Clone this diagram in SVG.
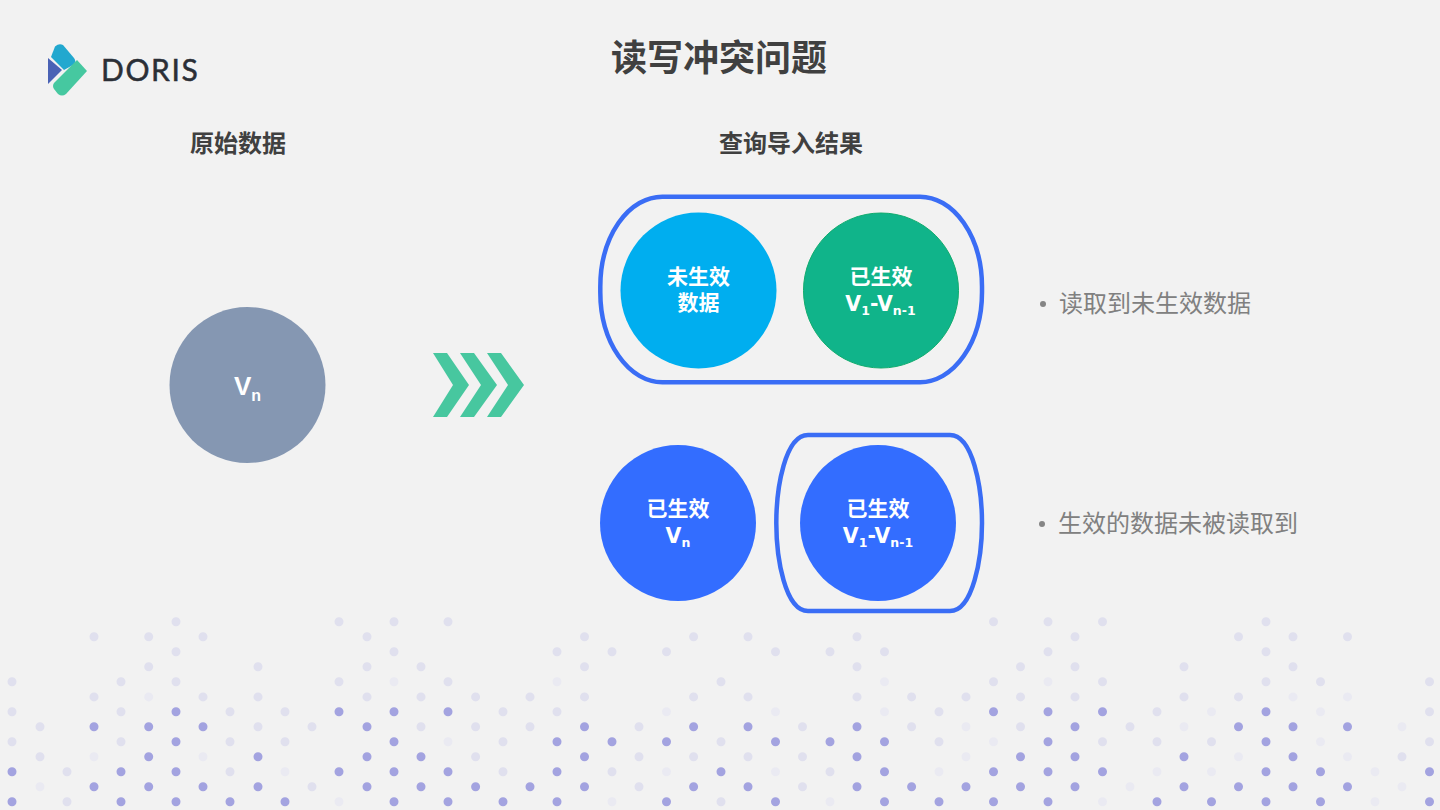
<svg xmlns="http://www.w3.org/2000/svg" width="1440" height="810" viewBox="0 0 1440 810">
<style>
text{font-family:"Liberation Sans","Noto Sans CJK SC",sans-serif}
.cjk{font-family:"Noto Sans CJK SC",sans-serif;font-weight:700}
.title{font-size:36px;fill:#404040;text-anchor:middle}
.sub{font-size:24px;fill:#404040;text-anchor:middle}
.lab{font-size:21px;fill:#fff;text-anchor:middle}
.ver{font-family:"DejaVu Sans",sans-serif;font-weight:700;font-size:20.5px}
.s{font-size:12.5px}
.vn{font-family:"Liberation Sans",sans-serif;font-weight:700;font-size:26px;fill:#fff;text-anchor:middle}
.vn .s{font-size:16px}
.item{font-family:"Noto Sans CJK SC",sans-serif;font-size:24px;font-weight:400;fill:#808080}
.bullet{fill:#858585}
.ring{fill:none;stroke:#3a6df5;stroke-width:4.5}
.d{fill:none;stroke-linecap:round;stroke-width:9}
.chev{fill:#47c79f}
</style>
<rect width="1440" height="810" fill="#f2f2f2"/>
<g id="dots">
<path class="d" stroke="#e0e0ee" d="M176 621.7h.01M339 621.7h.01M394 621.7h.01M448 621.7h.01M993.5 621.7h.01M1048 621.7h.01M1102.5 621.7h.01M1266 621.7h.01
M94 636.7h.01M148.7 636.7h.01M203 636.7h.01M367 636.7h.01M584.5 636.7h.01M693.6 636.7h.01M748 636.7h.01M857 636.7h.01M1075 636.7h.01M1238.5 636.7h.01M1293 636.7h.01M1347.5 636.7h.01
M176 651.7h.01M394 651.7h.01M557 651.7h.01M612 651.7h.01M666.5 651.7h.01M775.5 651.7h.01M830 651.7h.01M884.5 651.7h.01M1048 651.7h.01M1266 651.7h.01
M148.7 666.7h.01M258 666.7h.01M367 666.7h.01M421 666.7h.01M584.5 666.7h.01M857 666.7h.01M1020.5 666.7h.01M1075 666.7h.01M1184 666.7h.01M1293 666.7h.01
M12 681.7h.01M121 681.7h.01M176 681.7h.01M339 681.7h.01M448 681.7h.01M721 681.7h.01M993.5 681.7h.01M1102.5 681.7h.01M1266 681.7h.01M1320.5 681.7h.01M1429.5 681.7h.01
M94 696.9h.01M203 696.9h.01M258 696.9h.01M367 696.9h.01M421 696.9h.01M475.6 696.9h.01M530 696.9h.01M584.5 696.9h.01M693.6 696.9h.01M748 696.9h.01M857 696.9h.01M911.6 696.9h.01M966 696.9h.01M1020.5 696.9h.01M1075 696.9h.01M1184 696.9h.01M1238.5 696.9h.01
M12 711.7h.01M121 711.7h.01M230 711.7h.01M285 711.7h.01M503 711.7h.01M557 711.7h.01M939 711.7h.01M1157 711.7h.01M1429.5 711.7h.01
M40 726.7h.01M258 726.7h.01M312 726.7h.01M421 726.7h.01M475.6 726.7h.01M530 726.7h.01M639 726.7h.01M802.5 726.7h.01M911.6 726.7h.01M1020.5 726.7h.01M1130 726.7h.01
M12 741.7h.01M121 741.7h.01M230 741.7h.01M285 741.7h.01M503 741.7h.01M721 741.7h.01M939 741.7h.01M1102.5 741.7h.01M1157 741.7h.01M1211.5 741.7h.01M1429.5 741.7h.01
M40 756.7h.01M475.6 756.7h.01M639 756.7h.01M693.6 756.7h.01M748 756.7h.01M802.5 756.7h.01M1402 756.7h.01
M67 771.7h.01M230 771.7h.01M503 771.7h.01M612 771.7h.01M830 771.7h.01
M312 786.7h.01M639 786.7h.01M802.5 786.7h.01
M67 801.7h.01M721 801.7h.01"/>
<path class="d" stroke="#eaeaf2" d="M394 681.7h.01M557 681.7h.01M884.5 681.7h.01M1048 681.7h.01
M148.7 696.9h.01M1293 696.9h.01M1347.5 696.9h.01
M666.5 711.7h.01M775.5 711.7h.01M884.5 711.7h.01M1211.5 711.7h.01M1320.5 711.7h.01
M966 726.7h.01M1184 726.7h.01M1402 726.7h.01
M448 741.7h.01M993.5 741.7h.01M1320.5 741.7h.01
M94 756.7h.01M203 756.7h.01M966 756.7h.01M1238.5 756.7h.01M1347.5 756.7h.01
M285 771.7h.01M666.5 771.7h.01M775.5 771.7h.01M939 771.7h.01M1157 771.7h.01M1211.5 771.7h.01M1375 771.7h.01
M40 786.7h.01M1130 786.7h.01M1402 786.7h.01
M339 801.7h.01M612 801.7h.01M830 801.7h.01M1102.5 801.7h.01M1375 801.7h.01"/>
<path class="d" stroke="#a3a3e0" d="M176 711.7h.01M339 711.7h.01M394 711.7h.01M448 711.7h.01M993.5 711.7h.01M1048 711.7h.01M1102.5 711.7h.01M1266 711.7h.01
M94 726.7h.01M148.7 726.7h.01M203 726.7h.01M367 726.7h.01M584.5 726.7h.01M693.6 726.7h.01M748 726.7h.01M857 726.7h.01M1075 726.7h.01M1238.5 726.7h.01M1293 726.7h.01M1347.5 726.7h.01
M176 741.7h.01M394 741.7h.01M557 741.7h.01M612 741.7h.01M666.5 741.7h.01M775.5 741.7h.01M830 741.7h.01M884.5 741.7h.01M1048 741.7h.01M1266 741.7h.01
M148.7 756.7h.01M258 756.7h.01M367 756.7h.01M421 756.7h.01M584.5 756.7h.01M857 756.7h.01M1020.5 756.7h.01M1075 756.7h.01M1184 756.7h.01M1293 756.7h.01
M12 771.7h.01M121 771.7h.01M176 771.7h.01M339 771.7h.01M394 771.7h.01M448 771.7h.01M557 771.7h.01M721 771.7h.01M884.5 771.7h.01M993.5 771.7h.01M1048 771.7h.01M1102.5 771.7h.01M1266 771.7h.01M1320.5 771.7h.01M1429.5 771.7h.01
M94 786.7h.01M148.7 786.7h.01M203 786.7h.01M258 786.7h.01M367 786.7h.01M421 786.7h.01M475.6 786.7h.01M530 786.7h.01M584.5 786.7h.01M693.6 786.7h.01M748 786.7h.01M857 786.7h.01M911.6 786.7h.01M966 786.7h.01M1020.5 786.7h.01M1075 786.7h.01M1184 786.7h.01M1238.5 786.7h.01M1293 786.7h.01M1347.5 786.7h.01
M12 801.7h.01M121 801.7h.01M176 801.7h.01M230 801.7h.01M285 801.7h.01M394 801.7h.01M448 801.7h.01M503 801.7h.01M557 801.7h.01M666.5 801.7h.01M775.5 801.7h.01M884.5 801.7h.01M939 801.7h.01M993.5 801.7h.01M1048 801.7h.01M1157 801.7h.01M1211.5 801.7h.01M1266 801.7h.01M1320.5 801.7h.01M1429.5 801.7h.01"/>
</g>
<g id="logo">
<path d="M55 46.5Q59 43 63 45L74 58Q77 62 73 65L64 70L51 57Z" fill="#22a8cf"/>
<path d="M48 58L62 70L48 84Z" fill="#4a62b5"/>
<path d="M77 60L87 71L66 94Q62 97 58 94L54 89Q52 86 54 83Z" fill="#46c8a0"/>
<text x="101" y="81" font-size="30" letter-spacing="1.6" fill="#2b2f36" stroke="#2b2f36" stroke-width=".5" style="font-family:'Lato',sans-serif">DORIS</text>
</g>
<text class="cjk title" x="719" y="71">读写冲突问题</text>
<text class="cjk sub" x="238" y="152">原始数据</text>
<text class="cjk sub" x="791" y="152">查询导入结果</text>
<g id="source">
<circle cx="247.5" cy="385" r="78" fill="#8597b2"/>
<text class="vn" x="247.5" y="395">V<tspan class="s" dy="6">n</tspan></text>
</g>
<g id="arrow">
<path class="chev" d="M433 353H447L469 385L447 417H433L453 385Z"/>
<path class="chev" d="M460 353H474L497 385L474 417H460L481 385Z"/>
<path class="chev" d="M487 353H501L524 385L501 417H487L508 385Z"/>
</g>
<g id="group-a">
<rect class="ring" x="600.3" y="196.7" width="381.7" height="185.5" rx="62" ry="90"/>
</g>
<g id="not-effective">
<circle cx="698.5" cy="290.5" r="78" fill="#00aeef"/>
<text class="cjk lab"><tspan x="698.5" y="284">未生效</tspan><tspan x="698.5" y="310">数据</tspan></text>
</g>
<g id="effective-a">
<circle cx="881" cy="290.5" r="77.5" fill="#10b48a" stroke="#10ac6e"/>
<text class="cjk lab"><tspan x="881" y="284">已生效</tspan><tspan class="ver" x="880.5" y="311">V</tspan><tspan class="ver s" dy="3.5">1</tspan><tspan class="ver" dy="-3.5">-V</tspan><tspan class="ver s" dy="3.5">n-1</tspan></text>
</g>
<text class="item" x="1059" y="312">读取到未生效数据</text>
<circle class="bullet" cx="1043" cy="304" r="3"/>
<g id="group-b">
<path class="ring" d="M808 435H950C973 435 982 488 982 523C982 558 973 611 950 611H808C785 611 776.3 558 776.3 523C776.3 488 785 435 808 435Z"/>
</g>
<g id="effective-n">
<circle cx="678" cy="523" r="78" fill="#336dff"/>
<text class="cjk lab"><tspan x="678" y="516">已生效</tspan><tspan class="ver" x="678" y="543">V</tspan><tspan class="ver s" dy="3.5">n</tspan></text>
</g>
<g id="effective-b">
<circle cx="878" cy="523" r="78" fill="#336dff"/>
<text class="cjk lab"><tspan x="878" y="516">已生效</tspan><tspan class="ver" x="878" y="543">V</tspan><tspan class="ver s" dy="3.5">1</tspan><tspan class="ver" dy="-3.5">-V</tspan><tspan class="ver s" dy="3.5">n-1</tspan></text>
</g>
<text class="item" x="1058" y="532">生效的数据未被读取到</text>
<circle class="bullet" cx="1042" cy="524" r="3"/>
</svg>
